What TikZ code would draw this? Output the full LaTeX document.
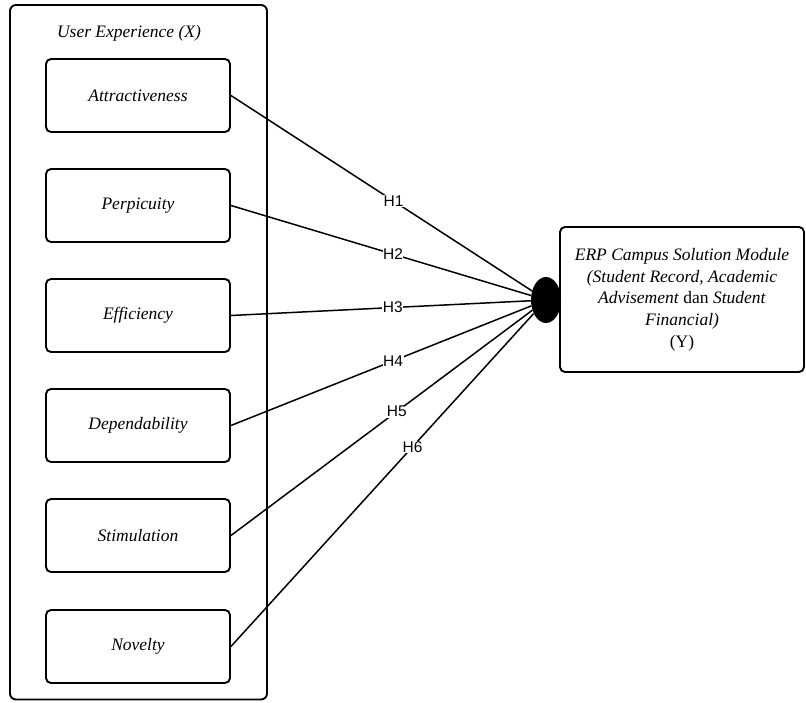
\documentclass[tikz,border=0pt]{standalone}
\usepackage{fontspec}
\setmainfont{Liberation Serif}
\setsansfont{Liberation Sans}
\usetikzlibrary{shapes.geometric}
\begin{document}
\begin{tikzpicture}[x=1pt,y=-1pt,
  varbox/.style={draw,line width=1.9pt,rounded corners=5pt,minimum width=184pt,minimum height=73pt,font=\fontsize{17.5}{21.6}\selectfont\itshape},
  outerbox/.style={draw,line width=1.9pt,rounded corners=6pt},
  link/.style={line width=1.5pt},
  hlabel/.style={fill=white,inner sep=0.5pt,font=\sffamily\fontsize{15.5}{17}\selectfont},
  ytext/.style={align=center,font=\fontsize{17.5}{21.7}\selectfont}]
\useasboundingbox (0,0) rectangle (806,702);
\fill[white] (0,0) rectangle (806,702);
\draw[outerbox] (10,5) rectangle (267,699.5);
\node[font=\fontsize{17.5}{21.6}\selectfont\itshape] (title) at (129,33) {User Experience (X)};
\node[varbox] (a1) at (138,95.5) {Attractiveness};
\node[varbox] (a2) at (138,205.5) {Perpicuity};
\node[varbox] (a3) at (138,315.5) {Efficiency};
\node[varbox] (a4) at (138,425.5) {Dependability};
\node[varbox] (a5) at (138,535.5) {Stimulation};
\node[varbox] (a6) at (138,646.5) {Novelty};
\node[draw,line width=1.9pt,rounded corners=5pt,minimum width=244pt,minimum height=145pt,ytext] (y) at (682,299.5)
  {\textit{ERP Campus Solution Module}\\ \textit{(Student Record, Academic}\\ \textit{Advisement} dan \textit{Student}\\ \textit{Financial)}\\ (Y)};
\node[ellipse,fill=black,minimum width=30pt,minimum height=46pt,inner sep=0pt] (e) at (546,300) {};
\draw[link] (a1.east) -- (e) node[hlabel,pos=0.54] {H1};
\draw[link] (a2.east) -- (e) node[hlabel,pos=0.54] {H2};
\draw[link] (a3.east) -- (e) node[hlabel,pos=0.54] {H3};
\draw[link] (a4.east) -- (e) node[hlabel,pos=0.54] {H4};
\draw[link] (a5.east) -- (e) node[hlabel,pos=0.55] {H5};
\draw[link] (a6.east) -- (e) node[hlabel,pos=0.6] {H6};
\end{tikzpicture}
\end{document}
